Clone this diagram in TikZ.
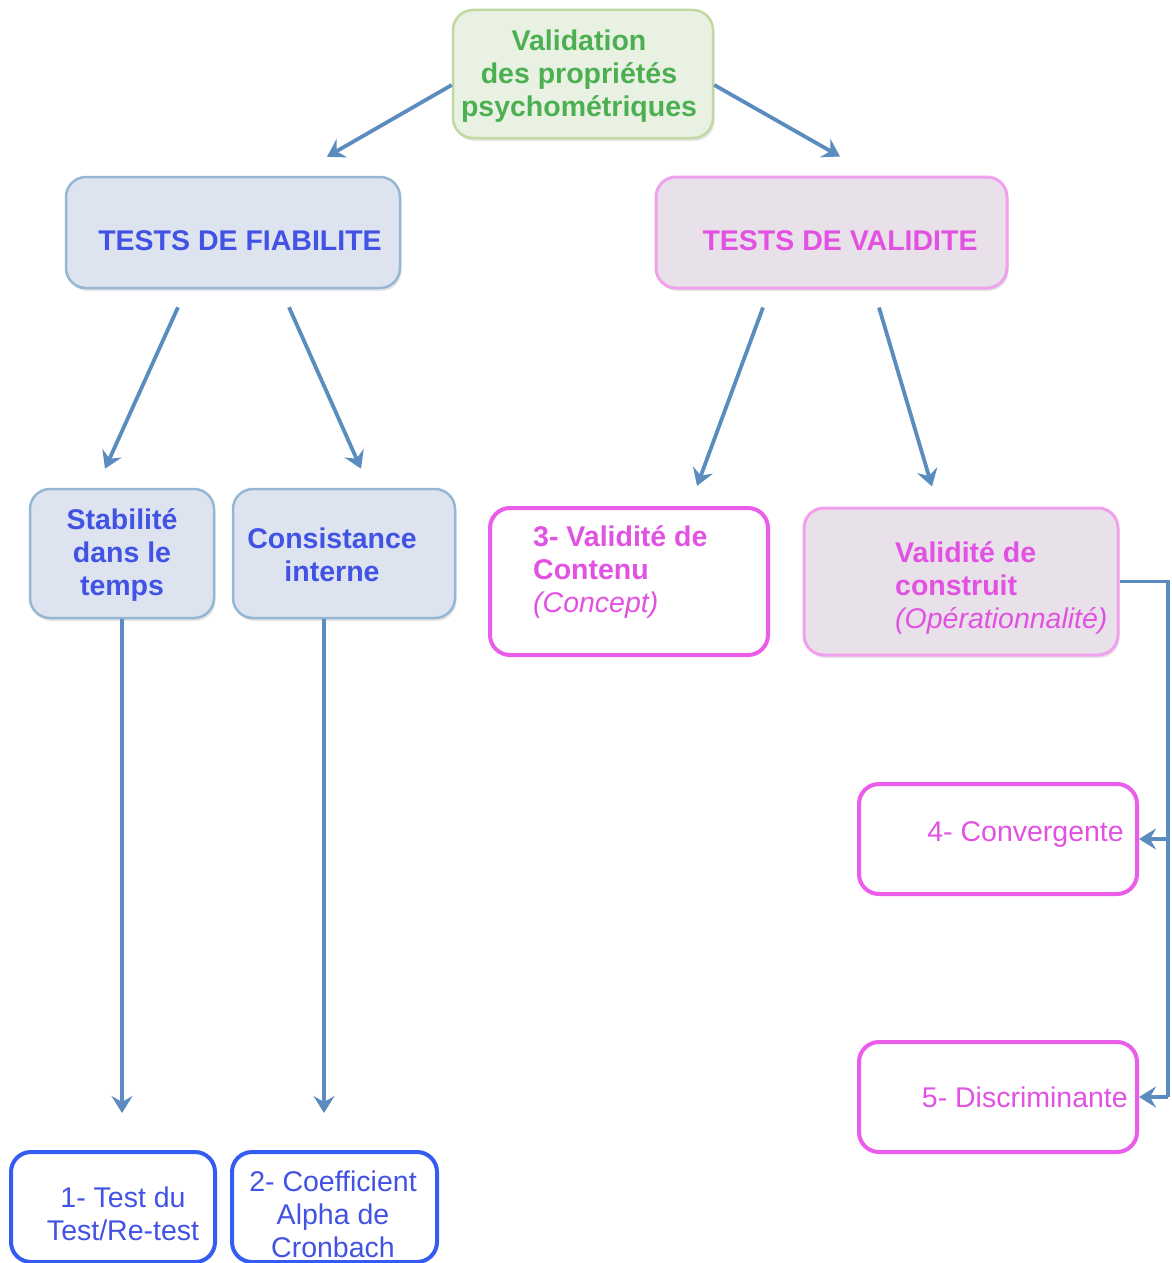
\documentclass[tikz,border=0pt]{standalone}
\usepackage{fontspec}
\setmainfont{Liberation Sans}
\usetikzlibrary{arrows.meta,calc,shadows}
\definecolor{grtxt}{RGB}{76,176,82}
\definecolor{grfill}{RGB}{233,241,226}
\definecolor{grline}{RGB}{192,217,160}
\definecolor{bltxt}{RGB}{66,82,228}
\definecolor{blfill}{RGB}{221,228,239}
\definecolor{blline}{RGB}{150,183,212}
\definecolor{mgtxt}{RGB}{226,82,226}
\definecolor{pkfill}{RGB}{233,225,233}
\definecolor{pkline}{RGB}{240,160,236}
\definecolor{mgline}{RGB}{234,92,234}
\definecolor{bloutline}{RGB}{52,92,240}
\definecolor{arrcol}{RGB}{90,140,192}
\begin{document}
\begin{tikzpicture}[x=1pt,y=-1pt,
  boxbase/.style={rectangle, rounded corners=20pt, inner sep=0pt},
  shad/.style={drop shadow={shadow xshift=1.5pt,shadow yshift=-3pt,opacity=0.22,fill=black!45}},
  greenbox/.style={boxbase, shad, fill=grfill, draw=grline, line width=2.5pt},
  bluebox/.style={boxbase, shad, fill=blfill, draw=blline, line width=2.5pt},
  pinkbox/.style={boxbase, shad, fill=pkfill, draw=pkline, line width=3pt},
  mgbox/.style={boxbase, fill=white, draw=mgline, line width=4pt},
  blobox/.style={boxbase, fill=white, draw=bloutline, line width=4pt},
  txt/.style={font=\fontsize{28.5}{33}\selectfont, inner sep=0pt, align=center},
  btxt/.style={font=\bfseries\fontsize{28.5}{33}\selectfont, inner sep=0pt, align=center},
  conn/.style={draw=arrcol, line width=3.8pt},
  arr/.style={conn, -{Stealth[length=17pt,width=21pt,inset=6pt]}}
]
\useasboundingbox (0,0) rectangle (1172,1263);

% boxes
\node[greenbox, minimum width=260pt, minimum height=128pt] (top) at (583,74) {};
\node[bluebox, minimum width=334pt, minimum height=111pt] (fiab) at (233,232.5) {};
\node[pinkbox, minimum width=351pt, minimum height=111pt] (valid) at (831.5,232.5) {};
\node[bluebox, minimum width=184pt, minimum height=129pt] (stab) at (122,553.5) {};
\node[bluebox, minimum width=222pt, minimum height=129pt] (cons) at (344,553.5) {};
\node[mgbox, minimum width=278pt, minimum height=147pt] (cont) at (629,581.5) {};
\node[pinkbox, minimum width=314pt, minimum height=147pt] (constr) at (961,581.5) {};
\node[mgbox, minimum width=278pt, minimum height=110pt] (conv) at (998,839) {};
\node[mgbox, minimum width=278pt, minimum height=110pt] (discr) at (998,1097) {};
\node[blobox, minimum width=204pt, minimum height=110pt] (test) at (113,1207) {};
\node[blobox, minimum width=205pt, minimum height=110pt] (coeff) at (334.5,1207) {};

% texts
\node[btxt, text=grtxt] (topt) at (579,76) {Validation\\des propriétés\\psychométriques};
\node[btxt, text=bltxt] (fiabt) at (240,241) {TESTS DE FIABILITE};
\node[btxt, text=mgtxt] (validt) at (840,241) {TESTS DE VALIDITE};
\node[btxt, text=bltxt] (stabt) at (122,555) {Stabilité\\dans le\\temps};
\node[btxt, text=bltxt] (const) at (332,555) {Consistance\\interne};
\node[btxt, text=mgtxt, align=left, anchor=west] (contt) at (533,572) {3- Validité de\\Contenu\\{\mdseries\itshape (Concept)}};
\node[btxt, text=mgtxt, align=left, anchor=west] (constrt) at (895,588) {Validité de\\construit\\{\mdseries\itshape (Opérationnalité)}};
\node[txt, text=mgtxt, anchor=east] (convt) at (1124,834) {4- Convergente};
\node[txt, text=mgtxt, anchor=east] (discrt) at (1128,1097) {5- Discriminante};
\node[txt, text=bltxt] (testt) at (123,1214) {1- Test du\\Test/Re-test};
\node[txt, text=bltxt] (coefft) at (333,1214) {2- Coefficient\\Alpha de\\Cronbach};

% connectors
\draw[arr] ($(top.west)+(0,11)$) -- ($(fiab.north)+(94,-19)$);
\draw[arr] ($(top.east)+(0,11)$) -- ($(valid.north)+(8.5,-19)$);
\draw[arr] ($(fiab.south)+(-55,18)$) -- ($(stab.north)+(-17,-19)$);
\draw[arr] ($(fiab.south)+(56,18)$) -- ($(cons.north)+(17,-19)$);
\draw[arr] ($(valid.south)+(-68.5,18)$) -- ($(cont.north)+(68,-20)$);
\draw[arr] ($(valid.south)+(47.5,18)$) -- ($(constr.north)+(-29,-20)$);
\draw[arr, shorten >=37pt] (stab.south) -- (stab.south |- test.north);
\draw[arr, shorten >=37pt] ($(cons.south)+(-20,0)$) -- ($(cons.south |- coeff.north)+(-20,0)$);
\coordinate (busA) at (1168,581.5);
\coordinate (busB) at (1168,1097);
\draw[conn] (constr.east) -- (busA) -- (busB);
\draw[arr] (busA |- conv.east) -- (conv.east);
\draw[arr] (busB) -- (discr.east);
\end{tikzpicture}
\end{document}
